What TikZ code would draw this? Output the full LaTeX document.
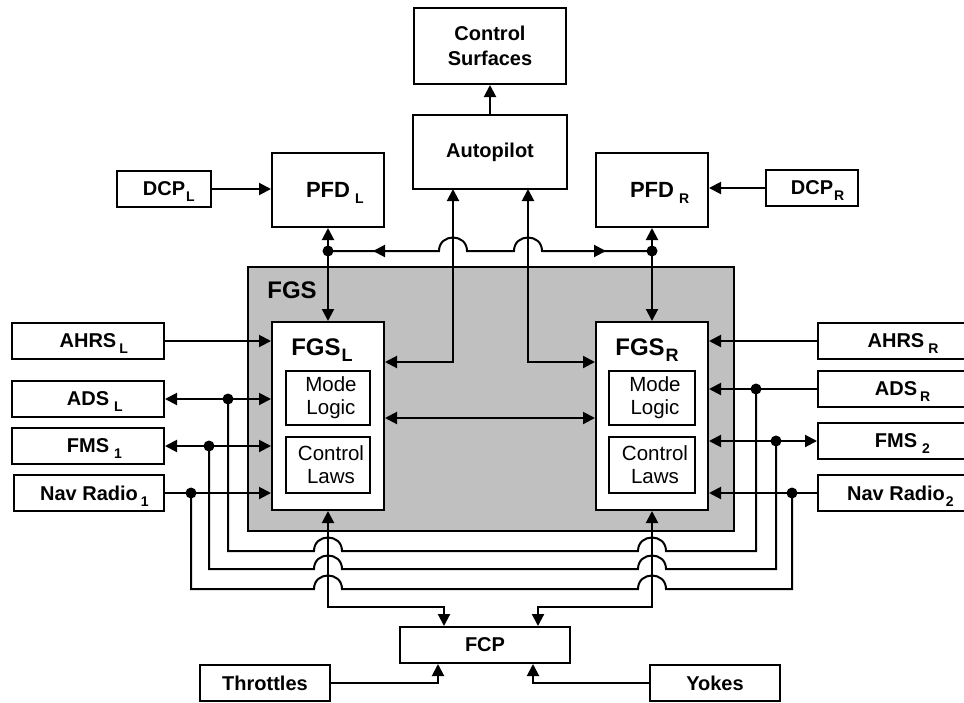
\documentclass[tikz,border=0pt]{standalone}
\usepackage{fontspec}
\setmainfont{Liberation Sans}
\usetikzlibrary{arrows.meta}
\definecolor{fgsgray}{RGB}{192,192,192}
\newcommand{\lsub}[3][14]{\rlap{\hspace{#2}\smash{\raisebox{-6pt}{\fontsize{#1}{#1}\selectfont #3}}}}
\begin{document}
\begin{tikzpicture}[x=1pt,y=-1pt,line width=2pt,
  >={Triangle[length=12pt,width=12pt]},
  box/.style={draw, fill=white, rectangle, inner sep=0pt, align=center,
    font=\fontsize{20}{25}\selectfont\bfseries},
  subbox/.style={draw, fill=white, rectangle, inner sep=0pt, align=center,
    font=\fontsize{20.5}{23}\selectfont},
  wh/.style 2 args={minimum width=#1pt, minimum height=#2pt},
  dot/.style={circle, fill=black, draw=none, inner sep=0pt, minimum size=11pt},
  hump/.style 2 args={insert path={-- (#1-14,#2) .. controls (#1-14,#2-18) and (#1+14,#2-18) .. (#1+14,#2)}}]
\useasboundingbox (0,0) rectangle (964,702);

% FGS container
\node[draw, fill=fgsgray, wh={486}{264}] (fgs) at (491,399) {};
\node[anchor=base west, font=\fontsize{24}{24}\selectfont\bfseries] (fgslabel) at (263,298) {FGS};

% top boxes
\node[box, wh={152}{76}] (cs) at (490,46) {Control\\Surfaces};
\node[box, wh={154}{74}] (ap) at (490,152) {Autopilot};
\node[box, wh={112}{74}, font=\fontsize{22}{22}\selectfont\bfseries] (pfdl) at (328,190) {PFD\lsub{5pt}{L}};
\node[box, wh={112}{74}, font=\fontsize{22}{22}\selectfont\bfseries] (pfdr) at (652,190) {PFD\lsub{5pt}{R}};
\node[box, wh={94}{36}] (dcpl) at (164,189) {DCP\lsub{1pt}{L}};
\node[box, wh={92}{36}] (dcpr) at (812,188) {DCP\lsub{1pt}{R}};

% FGS channels
\node[draw, fill=white, wh={112}{188}] (fgsl) at (328,416) {};
\node[draw, fill=white, wh={112}{188}] (fgsr) at (652,416) {};
\node[anchor=base west, font=\fontsize{24}{24}\selectfont\bfseries] (fgsltext) at (287,355) {FGS\lsub[18]{1pt}{L}};
\node[anchor=base west, font=\fontsize{24}{24}\selectfont\bfseries] (fgsrtext) at (611,355) {FGS\lsub[18]{1pt}{R}};
\node[subbox, wh={84}{54}] (mll) at (328,398) {\hspace*{6pt}Mode\\\hspace*{6pt}Logic};
\node[subbox, wh={84}{56}] (cll) at (328,465) {\hspace*{6pt}Control\\\hspace*{6pt}Laws};
\node[subbox, wh={86}{54}] (mlr) at (652,398) {\hspace*{6pt}Mode\\\hspace*{6pt}Logic};
\node[subbox, wh={86}{56}] (clr) at (652,465) {\hspace*{6pt}Control\\\hspace*{6pt}Laws};

% left sources
\node[box, wh={152}{36}] (ahrsl) at (88,341) {AHRS\lsub{3pt}{L}};
\node[box, wh={152}{36}] (adsl) at (88,399) {ADS\lsub{5pt}{L}};
\node[box, wh={152}{36}] (fms1) at (88,446) {FMS\lsub{5pt}{1}};
\node[box, wh={150}{36}] (nav1) at (89,493) {Nav Radio\lsub{3pt}{1}};

% right sources
\node[box, wh={156}{36}] (ahrsr) at (896,341) {AHRS\lsub{4pt}{R}};
\node[box, wh={156}{36}] (adsr) at (896,389) {ADS\lsub{3pt}{R}};
\node[box, wh={156}{36}] (fms2) at (896,441) {FMS\lsub{5pt}{2}};
\node[box, wh={156}{36}] (nav2) at (896,493) {Nav Radio\lsub{1pt}{2}};

% bottom
\node[box, wh={170}{36}] (fcp) at (485,645) {FCP};
\node[box, wh={130}{36}] (thr) at (265,683) {Throttles};
\node[box, wh={130}{36}] (yokes) at (715,683) {Yokes};

% coordinates
\coordinate (busL) at (328,251);
\coordinate (busR) at (652,251);
\coordinate (apL) at (453,189);
\coordinate (apR) at (528,189);
\coordinate (dADSL) at (228,399);
\coordinate (dFMS1) at (209,446);
\coordinate (dNAV1) at (191,493);
\coordinate (dADSR) at (756,389);
\coordinate (dFMS2) at (776,441);
\coordinate (dNAV2) at (792,493);

% top connections
\draw[->] (ap.north) -- (cs.south);
\draw[->] (dcpl.east) -- (dcpl.east -| pfdl.west);
\draw[->] (dcpr.west) -- (dcpr.west -| pfdr.east);
\draw[<->] (pfdl.south) -- (fgsl.north);
\draw[<->] (pfdr.south) -- (fgsr.north);
\draw (busL) [hump={453}{251}] [hump={528}{251}] -- (busR);
\draw[->] (395,251) -- (373,251);
\draw[->] (585,251) -- (606,251);
\draw[<->] (apL) |- ([yshift=54pt]fgsl.east);
\draw[<->] (apR) |- ([yshift=54pt]fgsr.west);
\draw[<->] ([yshift=-2pt]fgsl.east) -- ([yshift=-2pt]fgsr.west);

% left side
\draw[->] (ahrsl.east) -- (ahrsl.east -| fgsl.west);
\draw[<->] (adsl.east) -- (adsl.east -| fgsl.west);
\draw[<->] (fms1.east) -- (fms1.east -| fgsl.west);
\draw[->] (nav1.east) -- (nav1.east -| fgsl.west);

% right side
\draw[->] (ahrsr.west) -- (ahrsr.west -| fgsr.east);
\draw[->] (adsr.west) -- (adsr.west -| fgsr.east);
\draw[<->] (fms2.west) -- (fms2.west -| fgsr.east);
\draw[->] (nav2.west) -- (nav2.west -| fgsr.east);

% cross links under FGS
\draw (dADSL) -- (228,551) [hump={328}{551}] [hump={652}{551}] -- (756,551) -- (dADSR);
\draw (dFMS1) -- (209,569) [hump={328}{569}] [hump={652}{569}] -- (776,569) -- (dFMS2);
\draw (dNAV1) -- (191,589) [hump={328}{589}] [hump={652}{589}] -- (792,589) -- (dNAV2);

% FCP links
\draw[<->] (fgsl.south) -- (328,607) -| ([xshift=-41pt]fcp.north);
\draw[<->] (fgsr.south) -- (652,607) -| ([xshift=53pt]fcp.north);
\draw[->] (thr.east) -| ([xshift=-47pt]fcp.south);
\draw[->] (yokes.west) -| ([xshift=48pt]fcp.south);

% junction dots
\node[dot] at (busL) {};
\node[dot] at (busR) {};
\node[dot] at (dADSL) {};
\node[dot] at (dFMS1) {};
\node[dot] at (dNAV1) {};
\node[dot] at (dADSR) {};
\node[dot] at (dFMS2) {};
\node[dot] at (dNAV2) {};
\end{tikzpicture}
\end{document}
